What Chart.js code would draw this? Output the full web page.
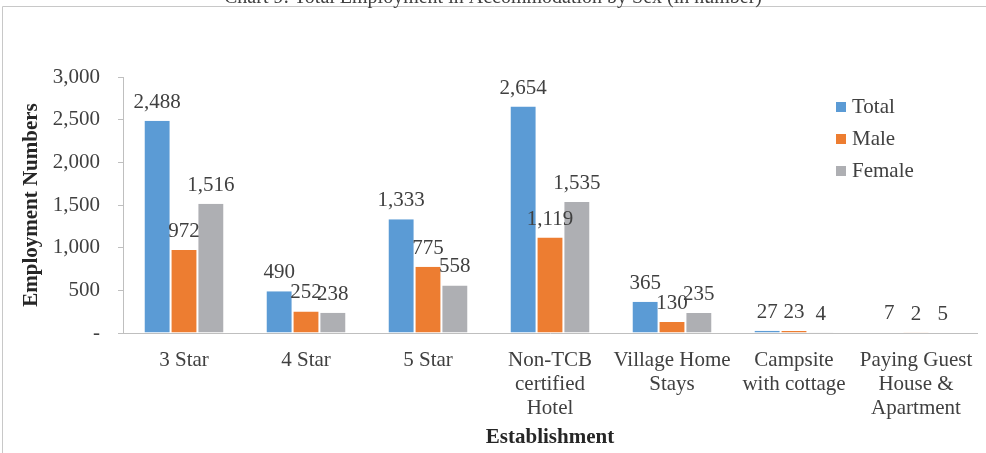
<!DOCTYPE html>
<html>
<head>
<meta charset="utf-8">
<script src="https://cdn.jsdelivr.net/npm/chart.js@4.4.1/dist/chart.umd.min.js"></script>
<style>
  html, body { margin: 0; padding: 0; background: #ffffff; }
  #wrap { position: relative; width: 986px; height: 453px; }
</style>
</head>
<body>
<div id="wrap"><canvas id="c" width="986" height="453"></canvas></div>
<script>
const chartTitle = 'Chart 9: Total Employment in Accommodation by Sex (in number)';
const categories = [
  ['3 Star'],
  ['4 Star'],
  ['5 Star'],
  ['Non-TCB', 'certified', 'Hotel'],
  ['Village Home', 'Stays'],
  ['Campsite', 'with cottage'],
  ['Paying Guest', 'House &', 'Apartment']
];
const seriesNames = ['Total', 'Male', 'Female'];
const totalValues = [2488, 490, 1333, 2654, 365, 27, 7];
const maleValues = [972, 252, 775, 1119, 130, 23, 2];
const femaleValues = [1516, 238, 558, 1535, 235, 4, 5];
const yTickValues = [0, 500, 1000, 1500, 2000, 2500, 3000];
const xAxisTitle = 'Establishment';
const yAxisTitle = 'Employment Numbers';

const colors = ['#5B9BD5', '#ED7D31', '#AEAFB3'];
const FONT = "'Liberation Serif', 'Times New Roman', serif";
const TEXT = '#404040';
const AXIS = '#BFBFBF';

function fmt(v) {
  if (v === 0) return '-';
  return v.toLocaleString('en-US');
}

const frame = {
  id: 'frame',
  beforeDraw(chart) {
    const ctx = chart.ctx;
    ctx.save();
    ctx.strokeStyle = '#C8C8C8';
    ctx.lineWidth = 1;
    ctx.beginPath();
    ctx.moveTo(2.5, 453);
    ctx.lineTo(2.5, 6.5);
    ctx.lineTo(986, 6.5);
    ctx.stroke();
    ctx.fillStyle = TEXT;
    ctx.font = '20px ' + FONT;
    ctx.textAlign = 'center';
    ctx.textBaseline = 'alphabetic';
    ctx.fillText(chartTitle, 493, 3);
    ctx.restore();
  }
};

const valueLabels = {
  id: 'valueLabels',
  afterDatasetsDraw(chart) {
    const ctx = chart.ctx;
    ctx.save();
    ctx.fillStyle = TEXT;
    ctx.font = '21px ' + FONT;
    ctx.textAlign = 'center';
    ctx.textBaseline = 'alphabetic';
    chart.data.datasets.forEach((ds, i) => {
      const meta = chart.getDatasetMeta(i);
      meta.data.forEach((bar, j) => {
        ctx.fillText(fmt(ds.data[j]), bar.x, bar.y - 13);
      });
    });
    ctx.restore();
  }
};

const sideLegend = {
  id: 'sideLegend',
  afterDraw(chart) {
    const ctx = chart.ctx;
    ctx.save();
    ctx.font = '21px ' + FONT;
    ctx.textAlign = 'left';
    ctx.textBaseline = 'middle';
    chart.data.datasets.forEach((ds, i) => {
      const y = 107 + i * 32;
      ctx.fillStyle = ds.backgroundColor;
      ctx.fillRect(836, y - 5, 10, 10);
      ctx.fillStyle = TEXT;
      ctx.fillText(ds.label, 852, y);
    });
    ctx.restore();
  }
};

new Chart(document.getElementById('c'), {
  type: 'bar',
  data: {
    labels: categories,
    datasets: [
      { label: seriesNames[0], data: totalValues, backgroundColor: colors[0] },
      { label: seriesNames[1], data: maleValues, backgroundColor: colors[1] },
      { label: seriesNames[2], data: femaleValues, backgroundColor: colors[2] }
    ].map(d => Object.assign(d, {
      borderColor: '#FFFFFF', borderWidth: { left: 1, right: 1, top: 0, bottom: 0 }, borderSkipped: 'bottom',
      categoryPercentage: 0.66, barPercentage: 1.0
    }))
  },
  options: {
    responsive: false,
    animation: false,
    devicePixelRatio: 1,
    layout: { padding: { left: 0, right: 9, top: 77, bottom: 0 } },
    plugins: {
      legend: { display: false },
      title: { display: false },
      tooltip: { enabled: false }
    },
    scales: {
      x: {
        grid: { display: false },
        border: { display: true, color: AXIS, width: 1 },
        ticks: {
          color: TEXT, padding: 7, maxRotation: 0, autoSkip: false,
          font: { family: FONT, size: 21, lineHeight: 1.143 }
        },
        title: {
          display: true, text: xAxisTitle, color: '#262626',
          font: { family: FONT, size: 21, weight: 'bold' },
          padding: { top: 0, bottom: 3 }
        },
        afterFit(scale) { scale.height = 120; }
      },
      y: {
        min: 0, max: 3000,
        afterBuildTicks(scale) { scale.ticks = yTickValues.map(v => ({ value: v })); },
        grid: { display: true, drawOnChartArea: false, drawTicks: true, tickLength: 5, color: AXIS },
        border: { display: true, color: AXIS, width: 1 },
        ticks: {
          color: TEXT, padding: 18,
          font: { family: FONT, size: 21 },
          callback: (v) => fmt(v)
        },
        title: {
          display: true, text: yAxisTitle, color: '#262626',
          font: { family: FONT, size: 21, weight: 'bold' },
          padding: { top: 19, bottom: 0 }
        },
        afterFit(scale) { scale.width = 123; }
      }
    }
  },
  plugins: [frame, valueLabels, sideLegend]
});
</script>
</body>
</html>
